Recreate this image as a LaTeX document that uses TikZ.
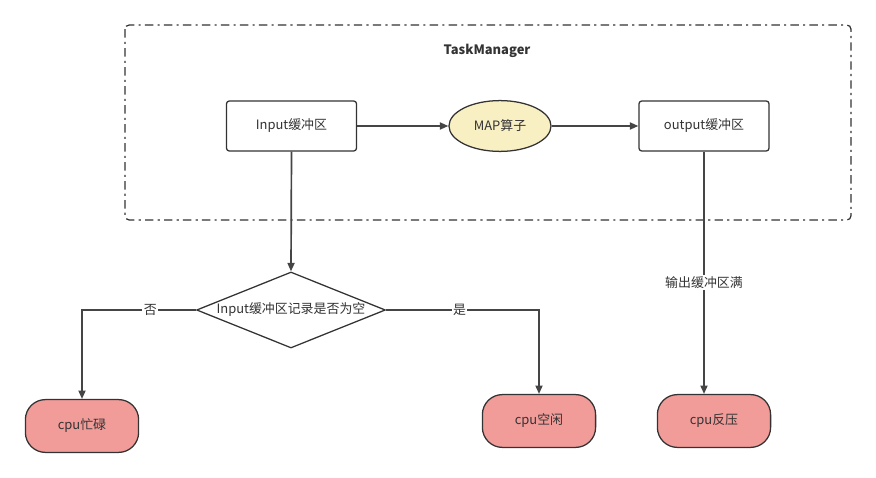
\documentclass[tikz,border=0pt]{standalone}
\usepackage{fontspec}
\setmainfont{Noto Sans CJK SC}
\usetikzlibrary{shapes,arrows.meta,positioning}

\definecolor{linegray}{HTML}{454545}
\definecolor{boxgray}{HTML}{333333}
\definecolor{mapyellow}{HTML}{F8EFC3}
\definecolor{cpured}{HTML}{F19C99}

\begin{document}
\begin{tikzpicture}[
    x=0.025cm, y=-0.025cm,
    font=\fontsize{9.2}{11}\selectfont,
    buffer/.style={rectangle, draw=boxgray, line width=0.9pt, rounded corners=2pt, fill=white, minimum width=3.25cm, minimum height=1.25cm, text=boxgray},
    operator/.style={ellipse, draw=boxgray, line width=0.9pt, fill=mapyellow, minimum width=2.55cm, minimum height=1.27cm, text=boxgray},
    decision/.style={diamond, draw=boxgray, line width=0.9pt, fill=white, inner sep=0pt, minimum width=4.72cm, minimum height=1.9cm},
    terminal/.style={rectangle, draw=boxgray, line width=0.9pt, rounded corners=0.5cm, fill=cpured, minimum width=2.83cm, minimum height=1.32cm, text=boxgray},
    flow/.style={draw=linegray, line width=1.2pt, -{Triangle[length=6pt, width=5pt]}},
    edgelabel/.style={fill=white, inner sep=1pt, text=boxgray}
]

\useasboundingbox (0,0) rectangle (876,478);

% TaskManager frame
\draw[boxgray, line width=0.9pt, rounded corners=3pt, dash pattern=on 6pt off 3pt on 1.5pt off 3pt]
    (125,25) rectangle (851,220);
\node[font=\fontsize{9.2}{11}\selectfont\bfseries, text=boxgray] (tm-title) at (487,51) {TaskManager};

% Buffers and operator
\node[buffer] (input-buf) at (291.5,126) {Input缓冲区};
\node[operator] (map-op) at (500,126) {MAP算子};
\node[buffer] (output-buf) at (704,126) {output缓冲区};

% Check on the input buffer
\node[decision, label={[text=boxgray]center:Input缓冲区记录是否为空}] (check) at (291,310) {};

% CPU states
\node[terminal] (cpu-busy) at (82,426) {cpu忙碌};
\node[terminal] (cpu-idle) at (539,421) {cpu空闲};
\node[terminal] (cpu-back) at (714,421) {cpu反压};

% Connectors
\draw[flow] (input-buf) -- (map-op);
\draw[flow] (map-op) -- (output-buf);
\draw[flow] (input-buf.south) -- (check.north);
\draw[flow] (check.west) -- node[edgelabel, pos=0.4] {否} (cpu-busy.north |- check.west) -- (cpu-busy.north);
\draw[flow] (check.east) -- node[edgelabel, pos=0.48] {是} (cpu-idle.north |- check.east) -- (cpu-idle.north);
\draw[flow] (output-buf.south) -- node[edgelabel, pos=0.54] {输出缓冲区满} (output-buf.south |- cpu-back.north);

\end{tikzpicture}
\end{document}
